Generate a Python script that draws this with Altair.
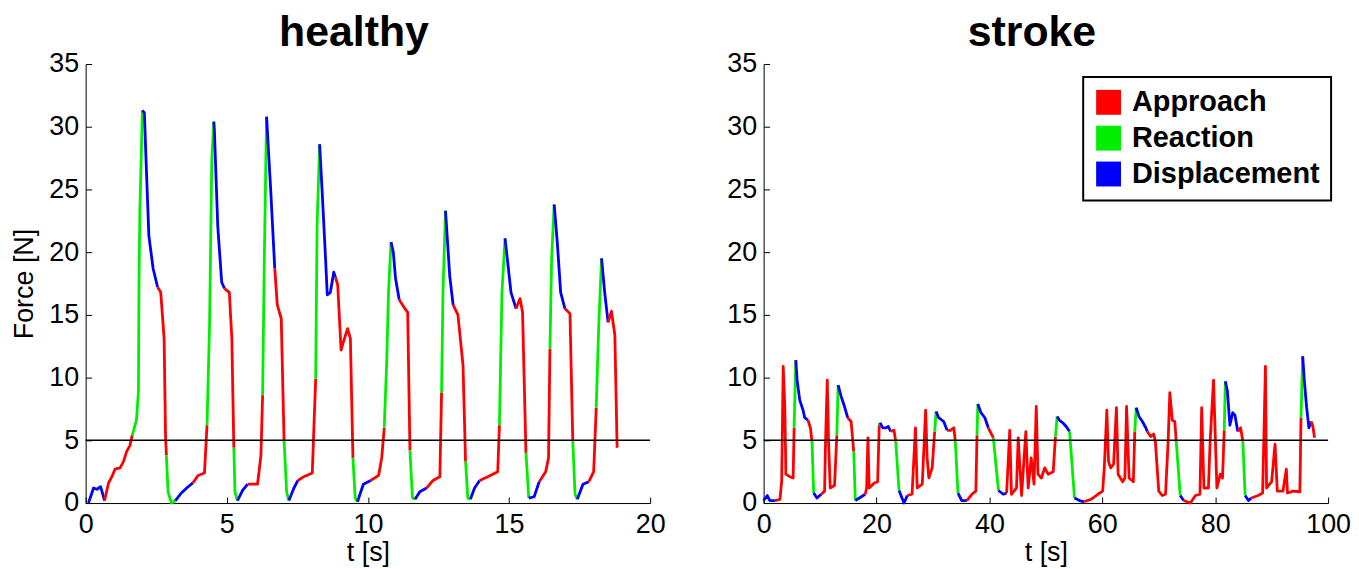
import altair as alt
import pandas as pd

# ---------------- data ----------------
# phase code of the segment that starts at each point: A=Approach, R=Reaction, D=Displacement
H_T = [0.10, 0.28, 0.40, 0.53, 0.67, 0.81, 0.93, 1.04, 1.22, 1.34, 1.45, 1.57, 1.65, 1.80, 1.87, 1.89, 1.92,
       2.01, 2.08, 2.16, 2.24, 2.39, 2.55, 2.66, 2.78, 2.83, 2.86, 2.92, 3.04, 3.18, 3.39, 3.63, 3.80, 3.98,
       4.21, 4.30, 4.39, 4.47, 4.54, 4.56, 4.68, 4.82, 4.92, 5.09, 5.18, 5.25, 5.29, 5.38, 5.56, 5.74, 6.09,
       6.21, 6.27, 6.33, 6.41, 6.56, 6.70, 6.79, 6.93, 7.03, 7.12, 7.20, 7.38, 7.52, 7.73, 8.03, 8.09, 8.15,
       8.20, 8.29, 8.38, 8.50, 8.56, 8.67, 8.79, 8.85, 8.93, 9.05, 9.14, 9.28, 9.38, 9.47, 9.55, 9.63, 9.84,
       10.10, 10.38, 10.49, 10.58, 10.67, 10.73, 10.82, 10.90, 10.98, 11.11, 11.28, 11.41, 11.49, 11.58,
       11.67, 11.84, 12.08, 12.31, 12.55, 12.61, 12.66, 12.75, 12.90, 13.02, 13.19, 13.37, 13.46, 13.54,
       13.63, 13.78, 13.96, 14.25, 14.60, 14.66, 14.75, 14.86, 15.07, 15.25, 15.39, 15.48, 15.60, 15.70,
       15.89, 16.07, 16.30, 16.40, 16.45, 16.51, 16.60, 16.71, 16.83, 16.98, 17.16, 17.26, 17.34, 17.42,
       17.62, 17.83, 18.00, 18.09, 18.18, 18.28, 18.39, 18.51, 18.63, 18.75, 18.83]
H_F = [0.0, 1.2, 1.1, 1.3, 0.2, 1.6, 2.1, 2.7, 2.8, 3.3, 4.1, 4.6, 5.4, 6.6, 8.9, 17.6, 23.2,
       31.3, 31.1, 26.1, 21.3, 18.7, 17.2, 16.8, 13.1, 5.4, 3.8, 0.9, 0.0, 0.2, 0.8, 1.3, 1.6, 2.2,
       2.4, 6.2, 14.2, 27.4, 30.4, 29.8, 22.1, 17.6, 17.1, 16.8, 13.1, 4.4, 0.9, 0.2, 1.0, 1.5, 1.5,
       3.8, 8.6, 19.5, 30.8, 24.8, 18.7, 15.8, 14.7, 5.0, 0.9, 0.2, 1.2, 1.8, 2.1, 2.4, 6.2, 9.9,
       22.1, 28.6, 24.8, 19.5, 16.6, 16.8, 18.4, 18.0, 17.4, 12.2, 12.9, 13.9, 13.1, 3.6, 0.4, 0.1, 1.5,
       1.8, 2.2, 3.6, 6.0, 11.5, 16.8, 20.8, 20.0, 17.9, 16.2, 15.6, 15.2, 4.2, 0.4,
       0.3, 0.9, 1.2, 1.8, 2.1, 8.8, 16.8, 23.3, 18.1, 15.8, 15.0, 11.0, 3.3, 0.4,
       0.3, 1.2, 1.8, 2.1, 2.5, 6.2, 16.8, 21.1, 16.8, 15.5, 16.3, 15.2, 4.0, 0.4,
       0.5, 1.7, 2.5, 3.6, 12.3, 19.5, 23.8, 20.8, 16.8, 15.5, 15.1, 4.9, 0.7, 0.3,
       1.5, 1.7, 2.5, 7.6, 14.2, 19.5, 16.8, 14.4, 15.3, 13.4, 4.4]
H_P = list("DDDDAAAAAAAARRRRR"
           "DDDDDAAAARRRDDDAA"
           "ARRRDDDDAAARRDDAA"
           "ARRDDAAARRDDAAAAR"
           "RDDDDDDAAAAAARRDD"
           "AAARRRDDDAAARR"
           "DDAAARRDDAAARR"
           "DDAAARRDDAAARD"
           "DAAARRDDDAARRD"
           "DAARRDDAAAA")

S_T = [0.0, 0.65, 1.1, 2.0, 2.9, 3.2, 3.47, 3.76, 3.94, 4.64, 5.23, 5.4, 5.7, 5.93, 6.4, 6.99, 7.28, 7.87,
       8.28, 8.57, 8.87, 9.45, 10.2, 10.8, 10.97, 11.27, 11.5, 11.8, 12.56, 12.97, 13.2, 13.73, 14.32,
       14.9, 15.5, 15.96, 16.25, 16.96, 18.0, 18.25, 18.48, 18.7, 19.6, 20.2, 20.48, 20.65, 21.06, 21.65,
       22.1, 22.5, 23.1, 23.4, 23.99, 24.87, 25.46, 26.3, 26.6, 26.9, 27.2, 28.1, 28.7, 28.97, 29.27,
       29.86, 30.3, 30.56, 31.0, 31.9, 32.5, 33.1, 33.7, 33.96, 34.43, 35.1, 36.0, 36.9, 37.6, 37.8,
       37.95, 38.5, 39.2, 39.8, 40.7, 41.6, 42.46, 43.05, 43.6, 43.9, 44.8, 45.1, 45.7, 46.45, 46.86,
       47.4, 47.9, 48.3, 48.6, 49.2, 49.8, 50.4, 51.3, 51.7, 52.0, 52.4, 53.0, 53.6, 54.2, 54.5,
       55.07, 55.96, 56.8, 58.0, 59.2, 60.06, 60.35, 60.8, 61.1, 61.5, 62.0, 62.5, 62.8, 63.6, 64.0,
       64.3, 64.74, 65.5, 65.75, 66.0, 66.5, 67.1, 67.7, 67.97, 68.56, 69.1, 69.4, 70.0, 70.6, 71.2,
       71.66, 71.96, 72.4, 72.84, 73.1, 73.8, 74.4, 75.6, 76.5, 77.3, 77.6, 78.0, 78.8, 79.1, 79.7,
       80.3, 80.9, 81.3, 81.6, 81.8, 82.16, 82.6, 83.1, 83.5, 84.0, 84.5, 84.9, 85.3, 85.9, 86.4,
       87.6, 88.4, 88.9, 89.1, 90.0, 90.6, 91.0, 92.0, 92.6, 92.8, 93.8, 95.0, 95.2, 95.5, 95.8,
       96.2, 96.6, 97.0, 97.3, 97.6]
S_F = [0.2, 0.6, 0.2, 0.2, 0.3, 1.8, 10.9, 7.6, 2.3, 2.1, 2.0, 6.0, 11.4, 9.8, 8.2, 7.4, 6.8, 6.6,
       6.0, 4.9, 0.8, 0.4, 0.7, 0.95, 4.9, 9.8, 4.9, 1.2, 1.4, 5.4, 9.4, 8.5, 7.7,
       6.8, 6.5, 4.1, 0.2, 0.4, 0.7, 1.2, 5.2, 1.2, 1.6, 1.7, 6.2, 6.4, 6.0, 6.0,
       6.1, 5.7, 5.8, 4.9, 1.0, 0.0, 0.6, 0.7, 3.4, 6.0, 1.2, 1.5, 7.4, 3.6, 2.0,
       2.8, 5.7, 7.3, 6.8, 6.5, 5.8, 5.8, 6.0, 4.9, 0.8, 0.2, 0.2, 0.7, 0.95, 5.4,
       7.9, 7.2, 6.8, 6.0, 5.2, 1.0, 0.7, 0.8, 5.8, 0.7, 1.2, 5.2, 0.6, 5.7, 1.2,
       3.6, 1.5, 7.7, 2.3, 2.0, 2.8, 2.3, 2.5, 5.3, 6.9, 6.6, 6.4, 6.1, 5.7, 3.9,
       0.4, 0.2, 0.1, 0.3, 0.7, 0.95, 2.8, 7.4, 3.3, 2.8, 3.1, 7.6, 2.3, 1.7, 2.0,
       7.7, 2.0, 1.7, 5.7, 7.6, 6.9, 6.5, 6.0, 5.7, 5.3, 5.5, 4.9, 0.95, 0.6, 0.7,
       4.9, 8.8, 6.6, 6.5, 4.9, 0.6, 0.2, 0.0, 0.6, 0.7, 7.6, 1.2, 1.2, 4.9, 9.8,
       1.2, 2.3, 2.0, 5.8, 9.7, 8.9, 6.2, 7.2, 7.0, 5.7, 6.0, 4.9, 0.6, 0.2, 0.4,
       0.6, 0.8, 10.9, 1.2, 1.7, 4.7, 0.95, 0.95, 2.7, 0.8, 0.95, 0.9, 6.8, 11.7, 9.7,
       7.6, 6.0, 6.5, 6.1, 5.2]
S_P = list("DDDAAAAAAAARDDDDDA"
           "ARDDAAAAAAARDDD"
           "AARDDAAAAAARDDD"
           "DAARDDAAAAAAAAA"
           "ARDDDAAARDDAAAR"
           "DDDARDDAAAAAAAA"
           "AAAAAAAARDDDDRR"
           "DDAAAAAAAAAAAAA"
           "AAARDDDDAAAAAAA"
           "AAAARDAAAAAAAAA"
           "AAARDDDDDAARDDA"
           "AAAAAAAAAAAARDD"
           "DDAAA")

PHASES = {"A": "Approach", "R": "Reaction", "D": "Displacement"}
PHASE_ORDER = ["Approach", "Reaction", "Displacement"]
PHASE_COLORS = ["#FF0000", "#00EE00", "#0000FF"]
THRESHOLD = 5
Y_TICKS = [0, 5, 10, 15, 20, 25, 30, 35]


def runs(ts, fs, ps):
    rows, run, prev = [], -1, None
    n = min(len(ts), len(fs))
    for i in range(n - 1):
        p = ps[i] if i < len(ps) else ps[-1]
        if p != prev:
            run += 1
            prev = p
            rows.append(dict(t=ts[i], f=fs[i], phase=PHASES[p], run=run, o=i))
        rows.append(dict(t=ts[i + 1], f=fs[i + 1], phase=PHASES[p], run=run, o=i + 1))
    return pd.DataFrame(rows)


W, H = 567, 441
FONT = "Liberation Sans"


def panel(ts, fs, ps, title, xmax, xticks, ytitle, legend):
    df = runs(ts, fs, ps)
    xs = alt.Scale(domain=[0, xmax], nice=False, zero=False)
    ys = alt.Scale(domain=[0, 35], nice=False, zero=False)
    cscale = alt.Scale(domain=PHASE_ORDER, range=PHASE_COLORS)
    # legend carrier: filled squares (no rows survive the filter, so nothing is drawn in the plot)
    keys = alt.Chart(df).transform_filter("datum.f < -1").mark_square(
        size=625, filled=True, opacity=1).encode(
        x=alt.X("t:Q", scale=xs, axis=None),
        y=alt.Y("f:Q", scale=ys, axis=None),
        color=alt.Color("phase:N", scale=cscale, legend=legend),
    )
    lines = alt.Chart(df).mark_line(strokeWidth=2.8, strokeJoin="round").encode(
        x=alt.X("t:Q", scale=xs, axis=alt.Axis(values=xticks, title="t [s]", ticks=False, labelPadding=9,
                                               titlePadding=2, labelFlush=False, grid=False)),
        y=alt.Y("f:Q", scale=ys, axis=alt.Axis(values=Y_TICKS, title=ytitle, ticks=False, labelPadding=7,
                                               titlePadding=10, grid=False)),
        color=alt.Color("phase:N", scale=cscale, legend=legend),
        detail="run:N",
        order="o:Q",
    )
    thr = pd.DataFrame({"t0": [0], "t1": [xmax], "f": [THRESHOLD]})
    rule = alt.Chart(thr).mark_rule(color="black", strokeWidth=1.5).encode(
        x=alt.X("t0:Q", scale=xs, axis=alt.Axis(orient="top", offset=-H, values=xticks, labels=False,
                                                domain=False, title=None, tickSize=6, ticks=True, grid=False)),
        x2="t1:Q",
        y=alt.Y("f:Q", scale=ys, axis=alt.Axis(orient="right", offset=-W, values=Y_TICKS, labels=False,
                                               domain=False, title=None, tickSize=6, ticks=True, grid=False)),
    )
    return alt.layer(keys, lines, rule).resolve_axis(x="independent", y="independent").properties(
        width=W, height=H,
        title=alt.TitleParams(title, fontSize=43, fontWeight="bold", font=FONT, frame="group",
                              anchor="middle", dx=-14, offset=-5, color="black"),
    )


legend = alt.Legend(title=None, orient="none", legendX=321, legendY=13, symbolType="square",
                    symbolSize=625, symbolStrokeWidth=0, labelFontSize=29, labelFontWeight="bold",
                    labelFont=FONT, labelColor="black", padding=11, rowPadding=6, labelOffset=9,
                    labelLimit=0, strokeColor="black", fillColor="white", symbolOpacity=1)

left = panel(H_T, H_F, H_P, "healthy", 20, [0, 5, 10, 15, 20], "Force [N]", None)
right = panel(S_T, S_F, S_P, "stroke", 100, [0, 20, 40, 60, 80, 100], None, legend)

chart = alt.hconcat(left, right, spacing=60).resolve_legend(color="independent").resolve_scale(
    color="independent").properties(
    padding={"left": 2, "top": 3, "right": 0, "bottom": 0}, background="white").configure_view(
    stroke=None).configure_legend(strokeWidth=2).configure_axis(
    labelFont=FONT, titleFont=FONT, labelFontSize=27, titleFontSize=27, titleFontWeight="normal",
    labelColor="black", titleColor="black", domainColor="black", tickColor="black", grid=False,
    domainWidth=1, tickWidth=1)

chart.save("out.html", embed_options={"renderer": "svg", "actions": False})
